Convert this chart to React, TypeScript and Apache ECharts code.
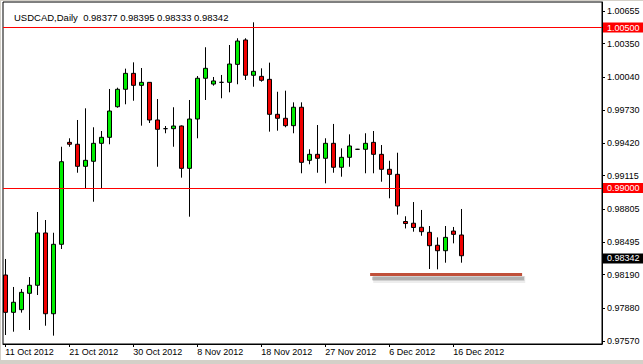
import React, { useEffect, useRef } from 'react';
import * as echarts from 'echarts';

const header = 'USDCAD,Daily  0.98377 0.98395 0.98333 0.98342';

const dates = [
  '11 Oct 2012', '12 Oct 2012', '14 Oct 2012', '15 Oct 2012', '16 Oct 2012', '17 Oct 2012', '18 Oct 2012', '19 Oct 2012',
  '21 Oct 2012', '22 Oct 2012', '23 Oct 2012', '24 Oct 2012', '25 Oct 2012', '26 Oct 2012', '28 Oct 2012', '29 Oct 2012',
  '30 Oct 2012', '31 Oct 2012', '1 Nov 2012', '2 Nov 2012', '4 Nov 2012', '5 Nov 2012', '6 Nov 2012', '7 Nov 2012',
  '8 Nov 2012', '9 Nov 2012', '11 Nov 2012', '12 Nov 2012', '13 Nov 2012', '14 Nov 2012', '15 Nov 2012', '16 Nov 2012',
  '18 Nov 2012', '19 Nov 2012', '20 Nov 2012', '21 Nov 2012', '22 Nov 2012', '23 Nov 2012', '25 Nov 2012', '26 Nov 2012',
  '27 Nov 2012', '28 Nov 2012', '29 Nov 2012', '30 Nov 2012', '2 Dec 2012', '3 Dec 2012', '4 Dec 2012', '5 Dec 2012',
  '6 Dec 2012', '7 Dec 2012', '9 Dec 2012', '10 Dec 2012', '11 Dec 2012', '12 Dec 2012', '13 Dec 2012', '14 Dec 2012',
  '16 Dec 2012', '17 Dec 2012',
];

const opens = [
  0.98187, 0.97838, 0.97863, 0.98016, 0.98091, 0.98580, 0.97825, 0.98474,
  0.99427, 0.99409, 0.99203, 0.99250, 0.99418, 0.99474, 0.99760, 0.99923,
  1.00072, 0.99960, 0.99988, 0.99636, 0.99555, 0.99555, 0.99580, 0.99184,
  0.99645, 1.00026, 0.99972, 0.99988, 0.99988, 1.00156, 1.00384, 1.00054,
  1.00044, 1.00016, 0.99689, 0.99652, 0.99583, 0.99755, 0.99259, 0.99315,
  0.99278, 0.99418, 0.99194, 0.99287, 0.99362, 0.99362, 0.99427, 0.99315,
  0.99175, 0.99128, 0.98687, 0.98671, 0.98633, 0.98586, 0.98465, 0.98414,
  0.98598, 0.98561,
];

const closes = [
  0.97838, 0.97932, 0.98025, 0.98091, 0.98580, 0.97825, 0.98474, 0.99246,
  0.99409, 0.99203, 0.99259, 0.99418, 0.99474, 0.99720, 0.99923, 1.00072,
  0.99960, 0.99988, 0.99636, 0.99549, 0.99555, 0.99580, 0.99184, 0.99645,
  1.00026, 1.00119, 1.00001, 0.99988, 1.00159, 1.00374, 1.00054, 1.00091,
  1.00007, 0.99689, 0.99652, 0.99583, 0.99755, 0.99240, 0.99315, 0.99278,
  0.99418, 0.99194, 0.99287, 0.99393, 0.99362, 0.99418, 0.99315, 0.99175,
  0.99128, 0.98832, 0.98668, 0.98631, 0.98592, 0.98461, 0.98414, 0.98539,
  0.98567, 0.98367,
];

const highs = [
  0.98337, 0.98075, 0.98056, 0.98168, 0.98776, 0.98701, 0.98582, 0.99386,
  0.99465, 0.99636, 0.99745, 0.99568, 0.99533, 0.99926, 0.99938, 1.00116,
  1.00175, 1.00122, 0.99990, 0.99832, 0.99580, 0.99755, 0.99585, 0.99823,
  1.00047, 1.00316, 1.00038, 1.00057, 1.00337, 1.00400, 1.00400, 1.00549,
  1.00119, 1.00172, 0.99900, 0.99910, 0.99801, 0.99801, 0.99362, 0.99589,
  0.99465, 0.99599, 0.99371, 0.99502, 0.99366, 0.99512, 0.99533, 0.99402,
  0.99255, 0.99330, 0.98736, 0.98869, 0.98795, 0.98645, 0.98539, 0.98645,
  0.98636, 0.98804,
];

const lows = [
  0.97626, 0.97657, 0.97835, 0.97673, 0.98000, 0.97713, 0.97620, 0.98430,
  0.99386, 0.99143, 0.98997, 0.98872, 0.98997, 0.99409, 0.99751, 0.99783,
  0.99816, 0.99583, 0.99608, 0.99199, 0.99512, 0.99386, 0.99097, 0.98732,
  0.99465, 0.99823, 0.99957, 0.99839, 0.99895, 0.99970, 1.00010, 0.99947,
  0.99994, 0.99527, 0.99536, 0.99568, 0.99512, 0.99138, 0.99222, 0.99143,
  0.99044, 0.99143, 0.99106, 0.99199, 0.99358, 0.99138, 0.99138, 0.99059,
  0.98904, 0.98751, 0.98622, 0.98592, 0.98554, 0.98243, 0.98240, 0.98302,
  0.98483, 0.98302,
];

const priceTicks = [
  0.9757, 0.9788, 0.9819, 0.98495, 0.98805, 0.99115, 0.9942, 0.9973, 1.0004, 1.0035, 1.00655,
];

const levelLines = [0.99, 1.005];
const currentPrice = 0.98342;
const supportLevel = 0.98192;
const supportFromBar = 45.6;
const supportToBar = 64.6;

// axis extents (visible window)
const xMin = -0.2875;
const xMax = 74.5875;
const yMin = 0.97542;
const yMax = 1.00739;

// drop shadow of the support line, in axis units (~2px right, ~4px down)
const shadowDx = 0.3;
const shadowDy = 0.00037;

const FONT = '"Liberation Sans", Arial, sans-serif';
const UP = '#00ee00';
const DOWN = '#f00000';
const LEVEL = '#ff0000';

export default function App() {
  const ref = useRef<HTMLDivElement>(null);

  useEffect(() => {
    if (!ref.current) return;
    const chart = echarts.init(ref.current, null, { renderer: 'svg' });
    const candleData = dates.map((_, i) => [i, opens[i], closes[i], lows[i], highs[i]]);
    const labelTicks = dates.map((_, i) => i).filter((i) => i % 8 === 0);

    const priceLabel = (bg: string) => ({
      show: true,
      position: 'end',
      distance: 1,
      formatter: (p: any) => Number(p.value).toFixed(5),
      backgroundColor: bg,
      color: '#ffffff',
      opacity: 1,
      fontSize: 9,
      fontFamily: FONT,
      lineHeight: 9,
      padding: [1, 4, 0, 4],
    });

    const segment = (dx: number, dy: number, color: string, width: number) => [
      {
        coord: [supportFromBar + dx, supportLevel - dy],
        lineStyle: { color, width, type: 'solid', opacity: 1 },
        label: { show: false },
      },
      { coord: [supportToBar + dx, supportLevel - dy] },
    ];

    chart.setOption({
      animation: false,
      backgroundColor: '#ffffff',
      textStyle: { fontFamily: FONT },
      title: {
        text: header,
        left: 8,
        top: 6,
        textStyle: { fontSize: 9.5, fontWeight: 'normal', color: '#000', fontFamily: FONT, lineHeight: 11 },
      },
      grid: {
        left: 2,
        top: 1,
        right: 41,
        bottom: 16,
        show: true,
        borderColor: '#000',
        borderWidth: 1,
        backgroundColor: '#fff',
      },
      xAxis: {
        type: 'value',
        min: xMin,
        max: xMax,
        splitLine: { show: false },
        axisLine: { show: true, onZero: false, lineStyle: { color: '#000' } },
        axisTick: { show: true, customValues: labelTicks, length: 3, lineStyle: { color: '#000' } },
        axisLabel: {
          customValues: labelTicks,
          formatter: (v: number) => dates[Math.round(v)] ?? '',
          align: 'left',
          margin: 3,
          fontSize: 9,
          color: '#000',
          fontFamily: FONT,
        },
      },
      yAxis: {
        type: 'value',
        position: 'right',
        min: yMin,
        max: yMax,
        splitLine: { show: false },
        axisLine: { show: true, onZero: false, lineStyle: { color: '#000' } },
        axisTick: { show: true, customValues: priceTicks, length: 3, lineStyle: { color: '#000' } },
        axisLabel: {
          customValues: priceTicks,
          formatter: (v: number) => v.toFixed(5),
          margin: 5,
          fontSize: 9,
          color: '#000',
          fontFamily: FONT,
        },
      },
      series: [
        {
          type: 'candlestick',
          encode: { x: 0, y: [1, 2, 3, 4] },
          data: candleData,
          barWidth: 4,
          clip: false,
          itemStyle: {
            color: UP,
            color0: DOWN,
            borderColor: '#000',
            borderColor0: '#000',
            borderColorDoji: '#000',
            borderWidth: 1,
          },
          markLine: {
            symbol: ['none', 'none'],
            silent: true,
            precision: 5,
            animation: false,
            data: [
              {
                yAxis: currentPrice,
                lineStyle: { color: 'rgba(0,0,0,0)', width: 1, type: 'solid' },
                label: priceLabel('#000000'),
              },
              segment(shadowDx * 1.3, shadowDy * 1.25, 'rgba(0,0,0,0.07)', 7),
              segment(shadowDx, shadowDy, 'rgba(0,0,0,0.12)', 5),
              segment(shadowDx * 0.8, shadowDy, 'rgba(0,0,0,0.15)', 3),
              segment(0, 0, '#c0503a', 3),
            ],
          },
        },
        {
          type: 'line',
          name: 'levels',
          data: [],
          silent: true,
          markLine: {
            symbol: ['none', 'none'],
            silent: true,
            precision: 5,
            animation: false,
            lineStyle: { color: LEVEL, width: 1, type: 'solid', opacity: 1 },
            data: levelLines.map((v) => ({
              yAxis: v,
              lineStyle: { color: LEVEL, width: 1, type: 'solid', opacity: 1 },
              label: priceLabel(LEVEL),
            })),
          },
        },
      ],
    });

    return () => chart.dispose();
  }, []);

  return (
    <div style={{ position: 'fixed', left: 0, top: 0, width: 643, height: 364, background: '#d4d0c8' }}>
      <div ref={ref} style={{ position: 'absolute', left: 1, top: 1, width: 642, height: 359 }} />
    </div>
  );
}
